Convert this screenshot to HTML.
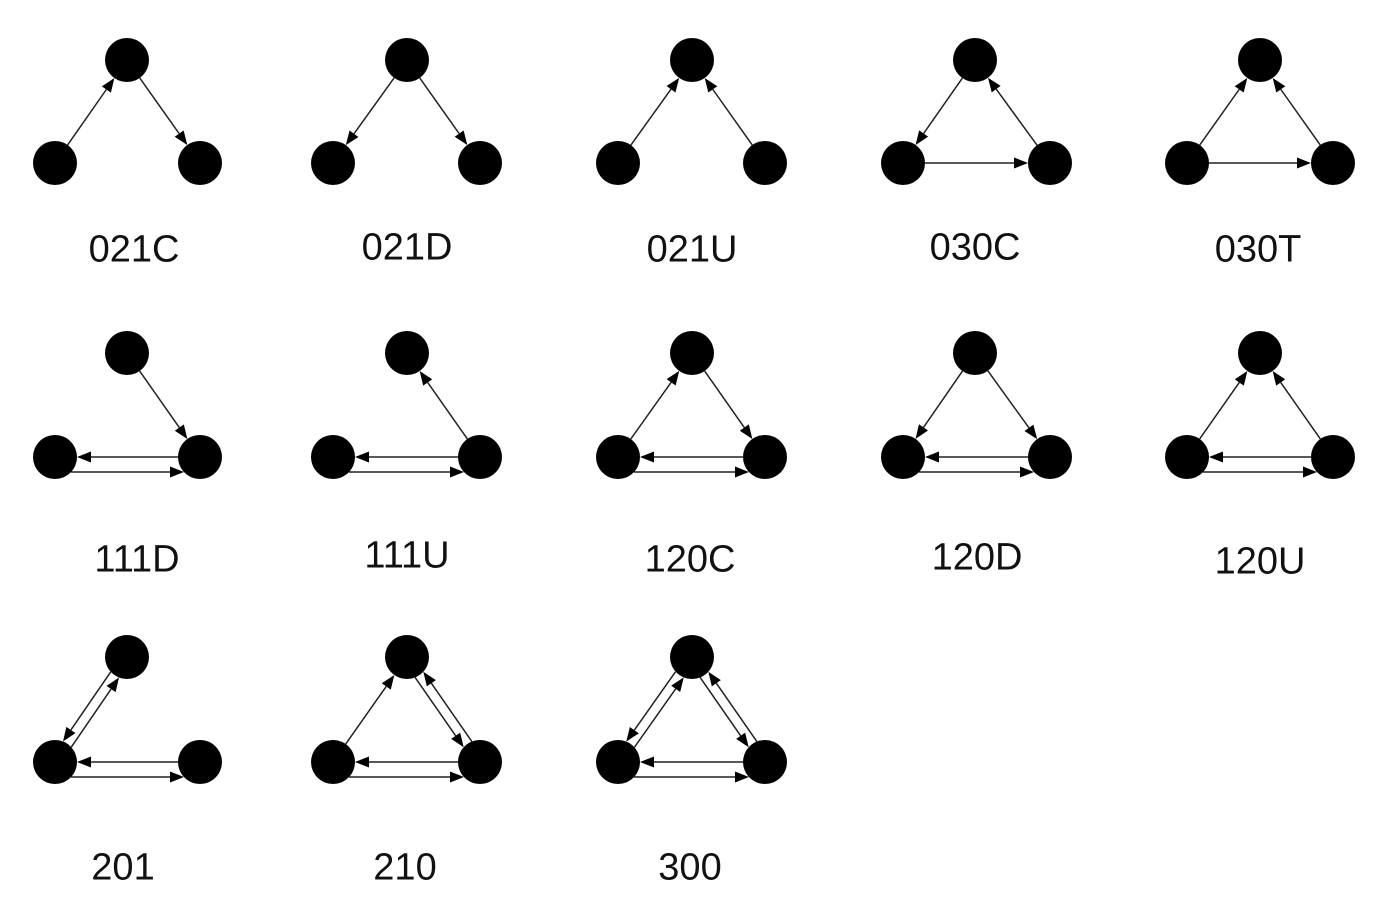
<!DOCTYPE html>
<html><head><meta charset="utf-8"><style>
body{margin:0;background:#fff;width:1390px;height:922px;overflow:hidden;position:relative;font-family:"Liberation Sans",sans-serif}
.l{position:absolute;font-size:38px;color:#111;transform:translate(-50%,-50%);white-space:nowrap}
svg{position:absolute;left:0;top:0}
</style></head><body>
<svg id="s" width="1390" height="922"></svg>
<div class="l" style="left:134px;top:250px">021C</div>
<div class="l" style="left:407px;top:248px">021D</div>
<div class="l" style="left:692px;top:250px">021U</div>
<div class="l" style="left:975px;top:248px">030C</div>
<div class="l" style="left:1258px;top:250px">030T</div>
<div class="l" style="left:137px;top:560px">111D</div>
<div class="l" style="left:407px;top:556px">111U</div>
<div class="l" style="left:690px;top:560px">120C</div>
<div class="l" style="left:977px;top:558px">120D</div>
<div class="l" style="left:1260px;top:562px">120U</div>
<div class="l" style="left:123px;top:868px">201</div>
<div class="l" style="left:405px;top:868px">210</div>
<div class="l" style="left:690px;top:868px">300</div>
<script>
var s=document.getElementById('s'),h='',R=22;
function node(x,y){h+='<circle cx="'+x+'" cy="'+y+'" r="'+R+'" fill="#000"/>';}
function arrow(a,b,off){
 var dx=b[0]-a[0],dy=b[1]-a[1],L=Math.hypot(dx,dy),ux=dx/L,uy=dy/L,px=-uy,py=ux;
 off=off||0;var sh=Math.sqrt(Math.max(R*R-off*off,0));
 var x1=a[0]+ux*sh+px*off,y1=a[1]+uy*sh+py*off,x2=b[0]-ux*sh+px*off,y2=b[1]-uy*sh+py*off;
 var al=14,aw=5.5;var bx=x2-ux*al,by=y2-uy*al;
 h+='<line x1="'+x1+'" y1="'+y1+'" x2="'+bx+'" y2="'+by+'" stroke="#222" stroke-width="1.5"/>';
 h+='<polygon points="'+x2+','+y2+' '+(bx+px*aw)+','+(by+py*aw)+' '+(bx-px*aw)+','+(by-py*aw)+'" fill="#000"/>';
}
function hpair(L,Rn){
 var y=L[1];
 h+='<line x1="'+(Rn[0]-R)+'" y1="'+y+'" x2="'+(L[0]+R+14)+'" y2="'+y+'" stroke="#222" stroke-width="1.5"/>';
 h+='<polygon points="'+(L[0]+R)+','+y+' '+(L[0]+R+14)+','+(y-5.5)+' '+(L[0]+R+14)+','+(y+5.5)+'"/>';
 var y2=y+15,e=16;
 h+='<line x1="'+(L[0]+e)+'" y1="'+y2+'" x2="'+(Rn[0]-e-14)+'" y2="'+y2+'" stroke="#222" stroke-width="1.5"/>';
 h+='<polygon points="'+(Rn[0]-e)+','+y2+' '+(Rn[0]-e-14)+','+(y2-5.5)+' '+(Rn[0]-e-14)+','+(y2+5.5)+'"/>';
}
var cols=[[127,55,200],[407,333,480],[692,618,765],[975,903,1050],[1260,1187,1333]];
var rows=[[60,163],[353,457],[657,762]];
var m=[
['LT','TR'],['TL','TR'],['LT','RT'],['TL','LR','RT'],['LT','LR','RT'],
['TR','H'],['RT','H'],['LT','TR','H'],['TL','TR','H'],['LT','RT','H'],
['LP','H','noR'],['LT','RP','H'],['LP','RP','H']];
m.forEach(function(e,i){
 var r=Math.floor(i/5),c=i%5,C=cols[c],Rw=rows[r];
 var N={T:[C[0],Rw[0]],L:[C[1],Rw[1]],R:[C[2],Rw[1]]};
 e.forEach(function(k){
  if(k=='H')hpair(N.L,N.R);
  else if(k=='LP'){arrow(N.T,N.L,5);arrow(N.L,N.T,5);}
  else if(k=='RP'){arrow(N.T,N.R,5);arrow(N.R,N.T,5);}
  else if(k!='noR')arrow(N[k[0]],N[k[1]],0);
 });
 node(N.T[0],N.T[1]);node(N.L[0],N.L[1]);node(N.R[0],N.R[1]);
});
s.innerHTML=h;
</script>
</body></html>
